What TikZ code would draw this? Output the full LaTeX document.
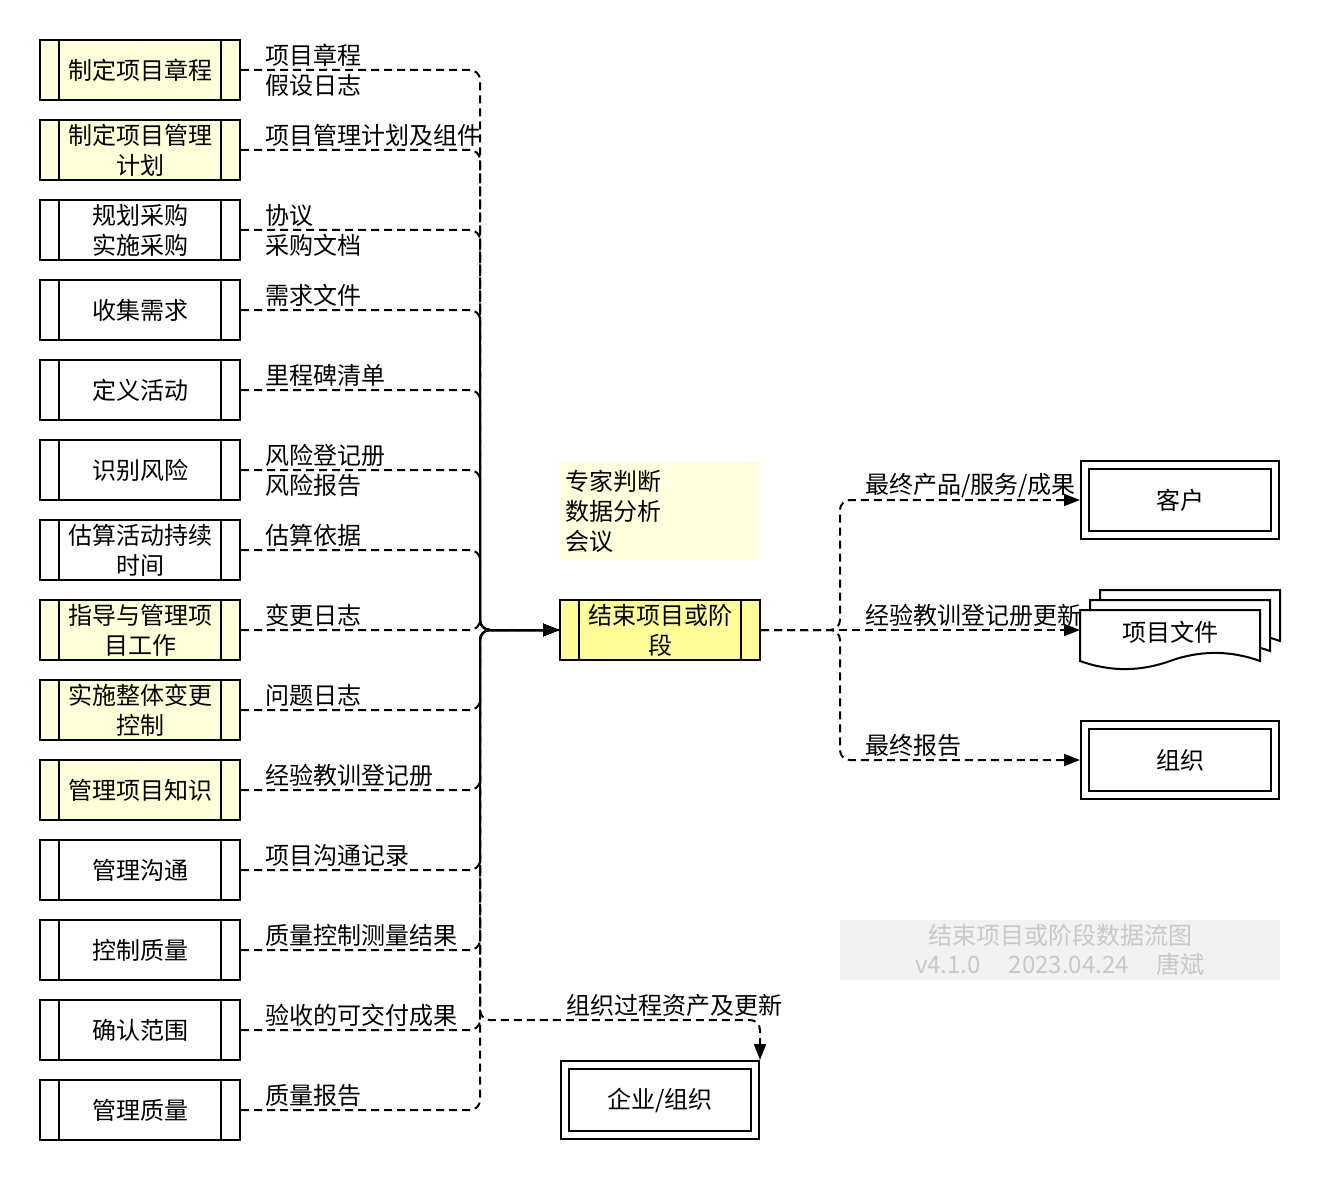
\documentclass[tikz,border=0pt]{standalone}
\usepackage{fontspec}
\setmainfont{Noto Sans CJK SC}
\usepackage{tikz}
\usetikzlibrary{arrows.meta,positioning,calc}
\usepackage{xcolor}
\definecolor{procfill}{HTML}{FFFFD9}
\definecolor{mainfill}{HTML}{FFFF99}
\definecolor{toolfill}{HTML}{FFFFDD}
\definecolor{markfill}{HTML}{F2F2F2}
\definecolor{marktext}{HTML}{C8C8C8}

\begin{document}
\begin{tikzpicture}[x=1pt, y=-1pt, line width=2pt,
  font=\fontsize{24}{30}\selectfont,
  proc/.style={draw, minimum width=200pt, minimum height=60pt, align=center, inner sep=0pt},
  ext/.style={draw, double, double distance=6pt, minimum width=190pt, minimum height=70pt, outer sep=5pt},
  flow/.style={dash pattern=on 8pt off 5pt, rounded corners=10pt},
  arrowend/.style={-{Triangle[length=16pt,width=12pt]}},
  lbl/.style={anchor=west, align=left, inner sep=0pt},
  docpage/.pic={\draw[fill=white] (0,0) -- (180,0) -- (180,51)
      .. controls (150,40.2) and (120,40.2) .. (90,51)
      .. controls (60,61.8) and (30,61.8) .. (0,51) -- cycle;}]
  \useasboundingbox (0,0) rectangle (1322,1182);

  % main process and its tools
  \node[proc, fill=mainfill] (close) at (660,630) {结束项目或阶\\段};
  \draw ([xshift=20pt]close.north west) -- ([xshift=20pt]close.south west)
        ([xshift=-20pt]close.north east) -- ([xshift=-20pt]close.south east);
  \node[fill=toolfill, minimum width=200pt, minimum height=98pt, text width=190pt,
        align=left, inner sep=5pt] (tools) at (660,511) {专家判断\\数据分析\\会议};
  \coordinate (hub) at (480,630);
  \coordinate (turn) at (480,1020);
  \coordinate (split) at (840,630);

  % input processes
  \foreach \i/\ptxt/\clr/\otxt/\dy in {
    1/{制定项目章程}/procfill/{项目章程\\假设日志}/0,
    2/{制定项目管理\\计划}/procfill/{项目管理计划及组件}/15,
    3/{规划采购\\实施采购}/white/{协议\\采购文档}/0,
    4/{收集需求}/white/{需求文件}/15,
    5/{定义活动}/white/{里程碑清单}/15,
    6/{识别风险}/white/{风险登记册\\风险报告}/0,
    7/{估算活动持续\\时间}/white/{估算依据}/15,
    8/{指导与管理项\\目工作}/procfill/{变更日志}/15,
    9/{实施整体变更\\控制}/procfill/{问题日志}/15,
    10/{管理项目知识}/procfill/{经验教训登记册}/15,
    11/{管理沟通}/white/{项目沟通记录}/15,
    12/{控制质量}/white/{质量控制测量结果}/15,
    13/{确认范围}/white/{验收的可交付成果}/15,
    14/{管理质量}/white/{质量报告}/15}
  {
    \node[proc, fill=\clr] (p\i) at (140,-10+80*\i) {\ptxt};
    \draw ([xshift=20pt]p\i.north west) -- ([xshift=20pt]p\i.south west)
          ([xshift=-20pt]p\i.north east) -- ([xshift=-20pt]p\i.south east);
    \node[lbl] (l\i) at (264,-10+80*\i-\dy) {\otxt};
    \draw[flow, arrowend] (p\i.east) -| (hub) -- (close.west);
  }

  % outputs
  \node[ext] (client) at (1180,500) {客户};
  \node[ext] (org) at (1180,760) {组织};
  \node[ext] (ent) at (660,1100) {企业/组织};
  \draw[flow, arrowend] (close.east) -- (split) |- (client.west);
  \draw[flow, arrowend] (close.east) -- (split) |- (org.west);
  \draw[flow, arrowend] (close.east) -- (1080,630);
  \pic at (1100,590) {docpage};
  \pic at (1090,600) {docpage};
  \pic at (1080,610) {docpage};
  \node[minimum width=180pt, outer sep=0pt] (docs) at (1170,632) {项目文件};
  \draw[flow, arrowend] (close.west) -- (hub) -- (turn) -| (ent.north east);

  \node[lbl] (o1) at (864,486) {最终产品/服务/成果};
  \node[lbl] (o2) at (864,615) {经验教训登记册更新};
  \node[lbl] (o3) at (864,745) {最终报告};
  \node[lbl] (o4) at (565,1005) {组织过程资产及更新};

  % watermark
  \node[fill=markfill, text=marktext, minimum width=440pt, minimum height=60pt,
        align=center, inner sep=0pt, font=\fontsize{24}{29}\selectfont] (mark) at (1060,950)
        {结束项目或阶段数据流图\\v4.1.0\hspace{28pt}2023.04.24\hspace{28pt}唐斌};
\end{tikzpicture}
\end{document}
